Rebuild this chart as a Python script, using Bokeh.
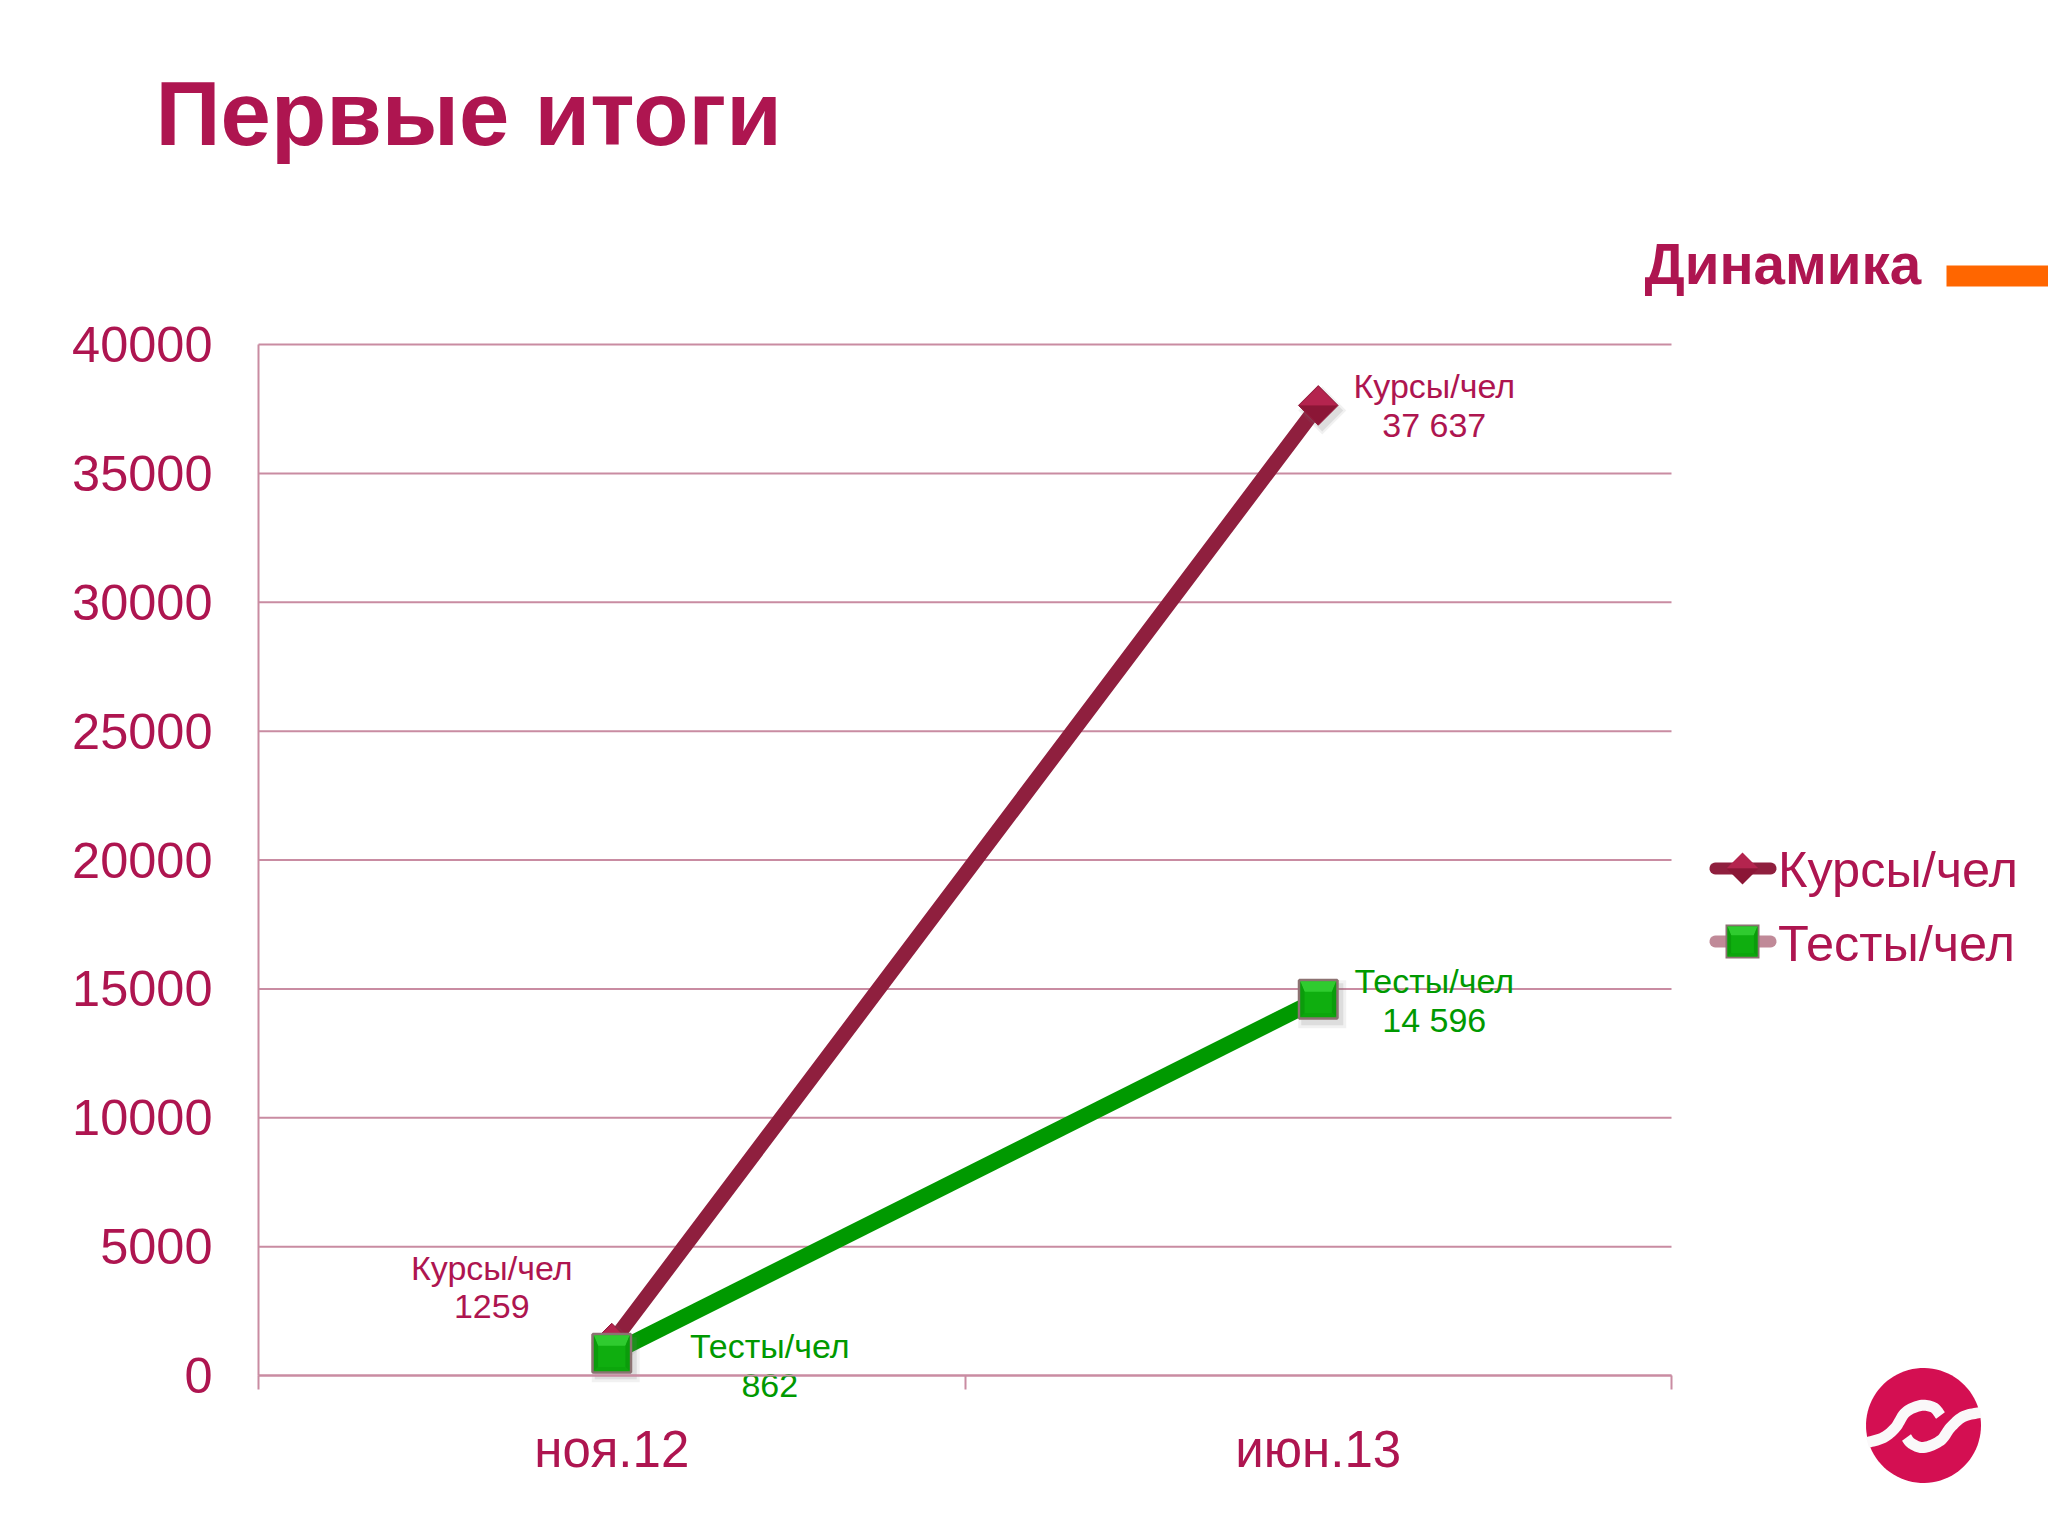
import numpy as np
from bokeh.core.properties import value
from bokeh.embed import file_html
from bokeh.resources import INLINE
from bokeh.plotting import figure
from bokeh.models import (ColumnDataSource, FixedTicker, Legend, LegendItem, Label,
                          BoxAnnotation, PolyAnnotation, Range1d)

categories = ["ноя.12", "июн.13"]
kursy_values = [1259, 37637]
testy_values = [862, 14596]
kursy_labels = ["Курсы/чел\n1259", "Курсы/чел\n37 637"]
testy_labels = ["Тесты/чел\n862", "Тесты/чел\n14 596"]
y_ticks = [0, 5000, 10000, 15000, 20000, 25000, 30000, 35000, 40000]
series_names = ["Курсы/чел", "Тесты/чел"]
title_text = "Первые итоги"
section_text = "Динамика"

FONT = "Liberation Sans"
CRIMSON = "#AE1550"
GRID = "#C98CA2"
BURGUNDY = "#8F1F3E"
GREEN = "#009900"

W, H = 2048, 1536
PLOT_L, PLOT_R, PLOT_T, PLOT_B = 258, 1671, 344, 1375   # plot area, in pixels
Y_MAX = y_ticks[-1]
N = len(categories)
ux = (PLOT_R - PLOT_L) / N
uy = (PLOT_B - PLOT_T) / Y_MAX

x_pos = [i + 0.5 for i in range(N)]

# The frame fills the page so that title, legend and logo are not clipped;
# axes are pinned to the plot area.
p = figure(width=W, height=H, output_backend="svg", toolbar_location=None,
           x_range=Range1d(-PLOT_L / ux, (W - PLOT_L) / ux),
           y_range=Range1d(-(H - PLOT_B) / uy, PLOT_B / uy),
           min_border=0, background_fill_color="white", border_fill_color="white",
           outline_line_color=None)

p.yaxis.fixed_location = 0
p.yaxis.bounds = (0, Y_MAX)
p.yaxis.ticker = FixedTicker(ticks=y_ticks)
p.yaxis.axis_line_color = GRID
p.yaxis.axis_line_width = 2
p.yaxis.major_tick_line_color = None
p.yaxis.minor_tick_line_color = None
p.yaxis.major_label_text_font = FONT
p.yaxis.major_label_text_font_size = "50.5px"
p.yaxis.major_label_text_color = CRIMSON
p.yaxis.major_label_standoff = 40
p.yaxis[0].formatter.use_scientific = False

p.xaxis.fixed_location = 0
p.xaxis.bounds = (0, N)
p.xaxis.ticker = FixedTicker(ticks=x_pos, minor_ticks=list(range(N + 1)))
p.xaxis.major_label_overrides = {v: c for v, c in zip(x_pos, categories)}
p.xaxis.axis_line_color = GRID
p.xaxis.axis_line_width = 2
p.xaxis.major_tick_line_color = None
p.xaxis.minor_tick_line_color = GRID
p.xaxis.minor_tick_line_width = 2
p.xaxis.minor_tick_in = 0
p.xaxis.minor_tick_out = 14
p.xaxis.major_label_text_font = FONT
p.xaxis.major_label_text_font_size = "51px"
p.xaxis.major_label_text_color = CRIMSON
p.xaxis.major_label_standoff = 31

p.grid.visible = False
p.segment(x0=0, x1=N, y0=y_ticks, y1=y_ticks, line_color=GRID, line_width=2)

kursy = ColumnDataSource(dict(x=x_pos, y=kursy_values, label=kursy_labels,
                              dx=[-120, 116], dy=[-56, 0]))
testy = ColumnDataSource(dict(x=x_pos, y=testy_values, label=testy_labels,
                              dx=[158, 116], dy=[12, 1]))


def bevel_square(cx, cy, h):
    """Facets of a bevelled square, as (xs, ys, colour), centred on (cx, cy) with y upwards."""
    i = h * 0.76
    o = [(-h, h), (h, h), (h, -h), (-h, -h)]
    n = [(-i, i * 0.55), (i, i * 0.55), (i, -i), (-i, -i)]
    cols = ["#2FCB2F", "#0B9C0B", "#0CA60C", "#0B9C0B"]
    out = []
    for k, c in enumerate(cols):
        a, b = k, (k + 1) % 4
        pts = [o[a], o[b], n[b], n[a]]
        out.append(([cx + q[0] for q in pts], [cy + q[1] for q in pts], c))
    return out


def bevel_diamond(cx, cy, h):
    top = ([cx - h, cx, cx + h], [cy, cy + h, cy], "#B4244E")
    low = ([cx - h, cx, cx + h], [cy, cy - h, cy], "#8B1636")
    return [top, low]


def facets(maker, xs, ys, half):
    """Bevel facets for data points, sized in pixels and placed through the data scales."""
    for x0, y0 in zip(xs, ys):
        for fx, fy, c in maker(x0 * ux, y0 * uy, half):
            p.patch([v / ux for v in fx], [v / uy for v in fy], fill_color=c, line_color=None)


def shadow(xs, ys, half, diamond=False):
    for grow, a in ((5, 0.10), (2, 0.16)):
        for x0, y0 in zip(xs, ys):
            cx, cy = x0 * ux + 4, y0 * uy - 5
            h = half + grow
            if diamond:
                px, py = [cx - h, cx, cx + h, cx], [cy, cy + h, cy, cy - h]
            else:
                px, py = [cx - h, cx + h, cx + h, cx - h], [cy + h, cy + h, cy - h, cy - h]
            p.patch([v / ux for v in px], [v / uy for v in py],
                    fill_color="#777777", fill_alpha=a, line_color=None)


k_line = p.line("x", "y", source=kursy, line_color=BURGUNDY, line_width=15, line_cap="round")
shadow(x_pos, kursy_values, 19, diamond=True)
k_mark = p.scatter("x", "y", source=kursy, marker="square", angle=np.pi / 4, size=28,
                   fill_color="#A81C42", line_color="#8F1F3E", line_width=1)
facets(bevel_diamond, x_pos, kursy_values, 19)
t_line = p.line("x", "y", source=testy, line_color=GREEN, line_width=16)
shadow(x_pos, testy_values, 19)
t_mark = p.scatter("x", "y", source=testy, marker="square", size=38,
                   fill_color="#0FAE0F", line_color="#8C7272", line_width=3)
facets(bevel_square, x_pos, testy_values, 18)

p.text("x", "y", text="label", source=kursy, x_offset="dx", y_offset="dy",
       text_font=value(FONT), text_font_size="34px", text_color=CRIMSON, text_align="center",
       text_baseline="middle", text_line_height=1.02)
p.text("x", "y", text="label", source=testy, x_offset="dx", y_offset="dy",
       text_font=value(FONT), text_font_size="34px", text_color=GREEN, text_align="center",
       text_baseline="middle", text_line_height=1.02)

# Real legend for the labels; its keys (round-capped bar with a bevelled marker on top,
# pale bar for the second series as in the reference) are drawn just below.
key_stub = p.line([float("nan")] * 2, [float("nan")] * 2, line_alpha=0)
legend = Legend(items=[LegendItem(label=series_names[0], renderers=[key_stub]),
                       LegendItem(label=series_names[1], renderers=[key_stub])],
                location=(1709, 556), orientation="vertical",
                border_line_color=None, background_fill_alpha=0, padding=0, margin=0, spacing=0,
                label_text_font=FONT, label_text_font_size="50.5px", label_text_color=CRIMSON,
                label_height=74, glyph_height=74, glyph_width=67, label_standoff=2)
p.add_layout(legend, "center")

p.add_layout(Label(x=155, y=113, x_units="canvas", y_units="canvas", text=title_text,
                   text_font=FONT, text_font_size="90.5px", text_font_style="bold",
                   text_color=CRIMSON, text_baseline="alphabetic", text_align="left"))
p.add_layout(Label(x=1644, y=264, x_units="canvas", y_units="canvas", text=section_text,
                   text_font=FONT, text_font_size="56.5px", text_font_style="bold",
                   text_color=CRIMSON, text_baseline="alphabetic", text_align="left"))
p.add_layout(BoxAnnotation(left=1946, right=2048, top=265, bottom=286, left_units="canvas",
                           right_units="canvas", top_units="canvas", bottom_units="canvas",
                           fill_color="#FF6600", fill_alpha=1, line_color=None))


def poly(xs, ys, color):
    p.add_layout(PolyAnnotation(xs=list(map(float, xs)), ys=list(map(float, ys)),
                                xs_units="canvas", ys_units="canvas", fill_color=color,
                                fill_alpha=1, line_color=None, level="overlay"))


def stadium(x0, x1, y, r, color):
    a = np.linspace(-np.pi / 2, np.pi / 2, 12)
    xs = np.r_[x1 - r + r * np.cos(a), x0 + r - r * np.cos(a)]
    ys = np.r_[y + r * np.sin(a), y - r * np.sin(a)]
    poly(xs, ys, color)


KEY_X, KEY_Y = 1742, (868, 941)
stadium(1709, 1776, KEY_Y[0], 6, BURGUNDY)
stadium(1709, 1776, KEY_Y[1], 6, "#C08A98")
# canvas y runs downwards, so flip
for fx, fy, c in bevel_diamond(KEY_X, 0, 16):
    poly(fx, [KEY_Y[0] - v for v in fy], c)
poly([KEY_X - 17, KEY_X + 17, KEY_X + 17, KEY_X - 17],
     [KEY_Y[1] - 17, KEY_Y[1] - 17, KEY_Y[1] + 17, KEY_Y[1] + 17], "#8C7272")
poly([KEY_X - 15, KEY_X + 15, KEY_X + 15, KEY_X - 15],
     [KEY_Y[1] - 15, KEY_Y[1] - 15, KEY_Y[1] + 15, KEY_Y[1] + 15], "#0FAE0F")
for fx, fy, c in bevel_square(KEY_X, 0, 15):
    poly(fx, [KEY_Y[1] - v for v in fy], c)


def ribbon(pts, width):
    pts = np.array(pts, float)
    P = np.vstack([pts[0], pts, pts[-1]])
    curve = []
    for i in range(1, len(P) - 2):
        for t in np.linspace(0, 1, 10, endpoint=False):
            curve.append(0.5 * (2 * P[i] + (P[i + 1] - P[i - 1]) * t
                                + (2 * P[i - 1] - 5 * P[i] + 4 * P[i + 1] - P[i + 2]) * t ** 2
                                + (3 * P[i] - P[i - 1] - 3 * P[i + 1] + P[i + 2]) * t ** 3))
    curve.append(pts[-1])
    c = np.array(curve)
    dx, dy = np.gradient(c[:, 0]), np.gradient(c[:, 1])
    n = np.hypot(dx, dy)
    nx, ny = -dy / n * width / 2, dx / n * width / 2
    return np.r_[c[:, 0] + nx, (c[:, 0] - nx)[::-1]], np.r_[c[:, 1] + ny, (c[:, 1] - ny)[::-1]]


theta = np.linspace(0, 2 * np.pi, 90)
CX, CY, R = 1923, 1425, 57.5
poly(CX + R * np.cos(theta), CY + R * np.sin(theta), "#D40F52")
for path in ([(-56, 17), (-40, 12), (-28, 2), (-18, -13), (-3, -20), (10, -18), (17, -10)],
             [(57, -13), (40, -9), (27, 2), (17, 15), (0, 22), (-12, 18), (-17, 12)]):
    rx, ry = ribbon([(CX + a, CY + b) for a, b in path], 11)
    poly(rx, ry, "#FAF8F9")

open("out.html", "w").write(file_html(p, INLINE))
